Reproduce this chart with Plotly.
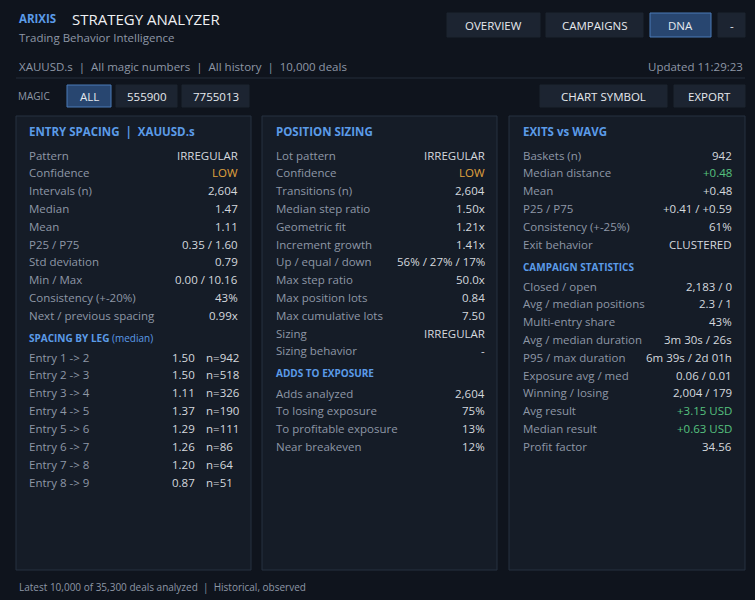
import plotly.graph_objects as go

# ---- data ----
spacing_labels = ["Pattern", "Confidence", "Intervals (n)", "Median", "Mean", "P25 / P75",
                  "Std deviation", "Min / Max", "Consistency (+-20%)", "Next / previous spacing"]
spacing_values = ["IRREGULAR", "LOW", "2,604", "1.47", "1.11", "0.35 / 1.60",
                  "0.79", "0.00 / 10.16", "43%", "0.99x"]
leg_labels = ["Entry 1 -> 2", "Entry 2 -> 3", "Entry 3 -> 4", "Entry 4 -> 5",
              "Entry 5 -> 6", "Entry 6 -> 7", "Entry 7 -> 8", "Entry 8 -> 9"]
leg_median = ["1.50", "1.50", "1.11", "1.37", "1.29", "1.26", "1.20", "0.87"]
leg_n = [942, 518, 326, 190, 111, 86, 64, 51]

sizing_labels = ["Lot pattern", "Confidence", "Transitions (n)", "Median step ratio", "Geometric fit",
                 "Increment growth", "Up / equal / down", "Max step ratio", "Max position lots",
                 "Max cumulative lots", "Sizing", "Sizing behavior"]
sizing_values = ["IRREGULAR", "LOW", "2,604", "1.50x", "1.21x", "1.41x", "56% / 27% / 17%",
                 "50.0x", "0.84", "7.50", "IRREGULAR", "-"]
adds_labels = ["Adds analyzed", "To losing exposure", "To profitable exposure", "Near breakeven"]
adds_values = ["2,604", "75%", "13%", "12%"]

exits_labels = ["Baskets (n)", "Median distance", "Mean", "P25 / P75", "Consistency (+-25%)", "Exit behavior"]
exits_values = ["942", "+0.48", "+0.48", "+0.41 / +0.59", "61%", "CLUSTERED"]
camp_labels = ["Closed / open", "Avg / median positions", "Multi-entry share", "Avg / median duration",
               "P95 / max duration", "Exposure avg / med", "Winning / losing", "Avg result",
               "Median result", "Profit factor"]
camp_values = ["2,183 / 0", "2.3 / 1", "43%", "3m 30s / 26s", "6m 39s / 2d 01h", "0.06 / 0.01",
               "2,004 / 179", "+3.15 USD", "+0.63 USD", "34.56"]

BG = "#0f141d"
PANEL = "#151c27"
BORDER = "#273140"
LABEL = "#8e97a6"
VALUE = "#d4d8de"
BLUE = "#5b9be8"
GREEN = "#55c27f"
ORANGE = "#e0a23e"
FONT = "Open Sans"

fig = go.Figure()
shapes = []
ann = []


def text(x, y, s, color=VALUE, size=11.5, anchor="left", bold=False):
    if bold:
        s = "<b>" + s + "</b>"
    ann.append(dict(x=x, y=y, text=s, showarrow=False, xanchor=anchor, yanchor="middle",
                    font=dict(family=FONT, size=size, color=color)))


def box(x0, y0, x1, y1, fill, line=BORDER):
    shapes.append(dict(type="rect", x0=x0, y0=y0, x1=x1, y1=y1, fillcolor=fill,
                       line=dict(color=line, width=1), layer="below"))


def button(x0, y0, x1, y1, s, active=False):
    if active:
        box(x0, y0, x1, y1, "#284670", "#4a7ab8")
    else:
        box(x0, y0, x1, y1, "#1c2431", "#1c2431")
    text((x0 + x1) / 2, (y0 + y1) / 2, s, "#e6e9ee", 11.5, "center")


def rows(x0, x1, y, labels, values, colors=None):
    for i, (l, v) in enumerate(zip(labels, values)):
        c = colors[i] if colors else VALUE
        text(x0, y + i * 17.8, l, LABEL)
        text(x1, y + i * 17.8, v, c, anchor="right")


def colorize(values, special):
    return [special.get(i, VALUE) for i in range(len(values))]


# header
text(17, 18, "ARIXIS", BLUE, 11.5, bold=True)
text(70, 19, "STRATEGY ANALYZER", "#eef0f3", 15)
text(17, 37, "Trading Behavior Intelligence", LABEL, 11.5)
button(447, 13, 540, 37, "OVERVIEW")
button(546, 13, 643, 37, "CAMPAIGNS")
button(650, 13, 711, 37, "DNA", True)
button(718, 13, 745, 37, "-")
text(17, 66, "XAUUSD.s  |  All magic numbers  |  All history  |  10,000 deals", LABEL, 11.5)
text(745, 66, "Updated 11:29:23", LABEL, 11.5, "right")
shapes.append(dict(type="line", x0=16, x1=745, y0=78, y1=78, line=dict(color="#252d3a", width=1)))
text(16, 96, "MAGIC", LABEL, 10)
button(67, 85, 111, 107, "ALL", True)
button(116, 85, 177, 107, "555900")
button(182, 85, 249, 107, "7755013")
button(540, 85, 667, 107, "CHART SYMBOL")
button(674, 85, 745, 107, "EXPORT")

# panels
box(16, 116, 251, 570, PANEL)
box(262, 116, 497, 570, PANEL)
box(509, 116, 745, 570, PANEL)

text(27, 131, "ENTRY SPACING  |  XAUUSD.s", BLUE, 11.5, bold=True)
rows(27, 240, 155, spacing_labels, spacing_values, colorize(spacing_values, {1: ORANGE}))
text(27, 338, "SPACING BY LEG <span style='font-weight:normal'>(median)</span>", BLUE, 10, bold=True)
for i, (l, m, n) in enumerate(zip(leg_labels, leg_median, leg_n)):
    y = 357 + i * 17.9
    text(27, y, l, LABEL)
    text(197, y, m, VALUE, anchor="right")
    text(204, y, "n=%d" % n, VALUE)

text(274, 131, "POSITION SIZING", BLUE, 11.5, bold=True)
rows(274, 487, 155, sizing_labels, sizing_values, colorize(sizing_values, {1: ORANGE}))
text(274, 373, "ADDS TO EXPOSURE", BLUE, 10, bold=True)
rows(274, 487, 393, adds_labels, adds_values)

text(521, 131, "EXITS vs WAVG", BLUE, 11.5, bold=True)
rows(521, 734, 155, exits_labels, exits_values, colorize(exits_values, {1: GREEN}))
text(521, 267, "CAMPAIGN STATISTICS", BLUE, 10, bold=True)
rows(521, 734, 286, camp_labels, camp_values, colorize(camp_values, {7: GREEN, 8: GREEN}))

text(17, 587, "Latest 10,000 of 35,300 deals analyzed  |  Historical, observed", LABEL, 10)

fig.update_layout(
    width=755, height=600, margin=dict(l=0, r=0, t=0, b=0),
    paper_bgcolor=BG, plot_bgcolor=BG, showlegend=False,
    xaxis=dict(range=[0, 755], visible=False, fixedrange=True),
    yaxis=dict(range=[600, 0], visible=False, fixedrange=True),
    shapes=shapes, annotations=ann,
)
fig.write_html("out.html", config={"displayModeBar": False},
               post_script="document.body.style.margin='0';document.body.style.background='%s';" % BG)
